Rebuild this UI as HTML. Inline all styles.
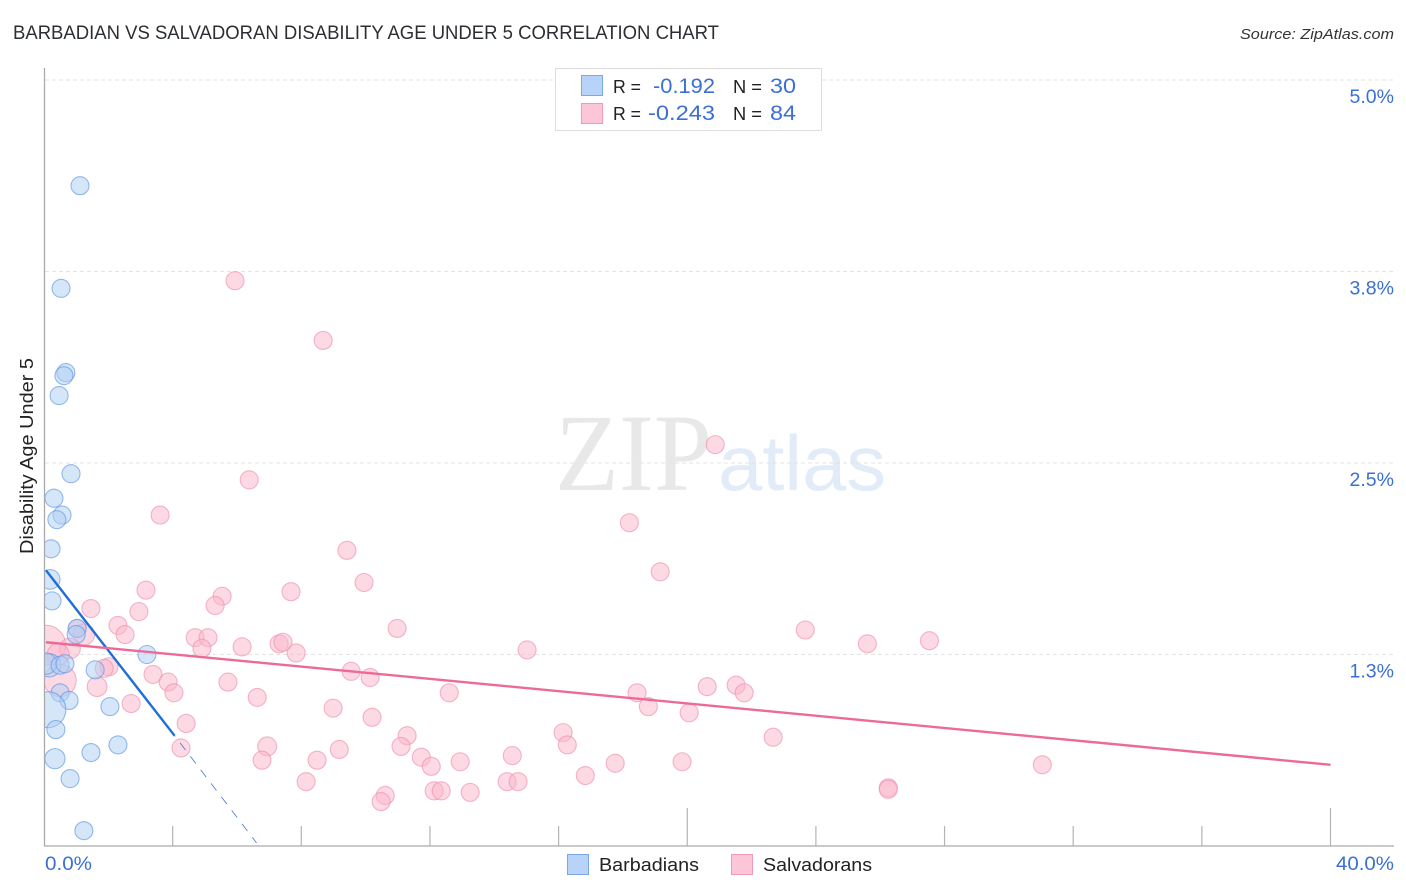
<!DOCTYPE html>
<html lang="en">
<head>
<meta charset="utf-8">
<title>Barbadian vs Salvadoran Disability Age Under 5 Correlation Chart</title>
<style>
html,body{margin:0;padding:0;background:#fff;}
svg{display:block;}
text{font-family:"Liberation Sans",sans-serif;}
</style>
</head>
<body>
<svg id="chart" width="1406" height="892" viewBox="0 0 1406 892" xmlns="http://www.w3.org/2000/svg">
  <rect x="0" y="0" width="1406" height="892" fill="#ffffff"/>
  <text x="13" y="39" font-size="19" fill="#2b2f33" textLength="706" lengthAdjust="spacingAndGlyphs">BARBADIAN VS SALVADORAN DISABILITY AGE UNDER 5 CORRELATION CHART</text>
  <text x="1394" y="39" font-size="15" font-style="italic" fill="#333" text-anchor="end" textLength="154" lengthAdjust="spacingAndGlyphs">Source: ZipAtlas.com</text>
  <g>
    <text x="555" y="490" font-size="110" fill="#e8e8e8" textLength="157" lengthAdjust="spacingAndGlyphs" style="font-family:'Liberation Serif',serif">ZIP</text>
    <text x="718" y="490" font-size="78" fill="#e2ebf8" textLength="168" lengthAdjust="spacingAndGlyphs" style="font-family:'Liberation Sans',sans-serif">atlas</text>
  </g>
  <g id="grid"></g>
  <g id="yLabels"></g>
  <g id="pinkPoints"></g>
  <g id="bluePoints"></g>
  <rect x="0" y="60" width="44" height="790" fill="#ffffff"/>
  <g id="trends"></g>
  <g id="axes">
    <line x1="44.5" y1="68" x2="44.5" y2="846" stroke="#aaaaaa" stroke-width="1.3"/>
    <line x1="44" y1="846" x2="1394" y2="846" stroke="#aaaaaa" stroke-width="1.3"/>
  </g>
  <g id="xTicks"></g>
  <text x="45" y="870" font-size="19" fill="#3b6fd4" textLength="47" lengthAdjust="spacingAndGlyphs">0.0%</text>
  <text x="1394" y="870" font-size="19" fill="#3b6fd4" text-anchor="end" textLength="58" lengthAdjust="spacingAndGlyphs">40.0%</text>
  <text transform="translate(33,456) rotate(-90)" font-size="18" fill="#222" text-anchor="middle" textLength="196" lengthAdjust="spacingAndGlyphs">Disability Age Under 5</text>

  <g>
    <rect x="555.5" y="68.5" width="266" height="62" fill="#ffffff" stroke="#dddddd" stroke-width="1"/>
    <rect x="581.5" y="75.5" width="21" height="20" fill="#b7d3f7" stroke="#7aa8e6"/>
    <rect x="581.5" y="103.5" width="21" height="20" fill="#fdc6d8" stroke="#f09ab5"/>
    <text x="613" y="93" font-size="18.5" fill="#222" textLength="28" lengthAdjust="spacingAndGlyphs">R =</text>
    <text x="715" y="93" font-size="21" fill="#3b6fd4" text-anchor="end" textLength="62" lengthAdjust="spacingAndGlyphs">-0.192</text>
    <text x="733" y="93" font-size="18.5" fill="#222" textLength="29" lengthAdjust="spacingAndGlyphs">N =</text>
    <text x="796" y="93" font-size="21" fill="#3b6fd4" text-anchor="end" textLength="26" lengthAdjust="spacingAndGlyphs">30</text>
    <text x="613" y="120" font-size="18.5" fill="#222" textLength="28" lengthAdjust="spacingAndGlyphs">R =</text>
    <text x="715" y="120" font-size="21" fill="#3b6fd4" text-anchor="end" textLength="67" lengthAdjust="spacingAndGlyphs">-0.243</text>
    <text x="733" y="120" font-size="18.5" fill="#222" textLength="29" lengthAdjust="spacingAndGlyphs">N =</text>
    <text x="796" y="120" font-size="21" fill="#3b6fd4" text-anchor="end" textLength="26" lengthAdjust="spacingAndGlyphs">84</text>
  </g>

  <g>
    <rect x="567.5" y="854.5" width="21" height="20" fill="#b7d3f7" stroke="#7aa8e6"/>
    <text x="599" y="871" font-size="18.5" fill="#222" textLength="100" lengthAdjust="spacingAndGlyphs">Barbadians</text>
    <rect x="731.5" y="854.5" width="21" height="20" fill="#fdc6d8" stroke="#f09ab5"/>
    <text x="763" y="871" font-size="18.5" fill="#222" textLength="109" lengthAdjust="spacingAndGlyphs">Salvadorans</text>
  </g>
</svg>
<script>
const yTickValues = [5.0, 3.75, 2.5, 1.25];
const yTickLabels = ["5.0%", "3.8%", "2.5%", "1.3%"];
const xTickValues = [4, 8, 12, 16, 20, 24, 28, 32, 36, 40];
const xMajorTicks = [20, 40];

const barbadianX = [1.12,0.53,0.68,0.62,0.47,0.84,0.31,0.56,0.40,0.22,0.19,0.25,1.03,1.00,3.20,0.16,0.06,0.50,0.65,1.59,0.50,0.78,2.05,0.12,0.37,2.30,1.46,0.34,0.81,1.24];
const barbadianY = [4.31,3.64,3.09,3.07,2.94,2.43,2.27,2.16,2.13,1.94,1.74,1.60,1.42,1.38,1.25,1.18,1.19,1.18,1.19,1.15,1.00,0.95,0.91,0.89,0.76,0.66,0.61,0.57,0.44,0.10];
const barbadianWeight = [1,1,1,1,1,1,1,1,1,1,1.2,1,1,1,1,1.7,1.4,1,1,1,1,1,1,4,1,1,1,1.25,1,1];

const salvadoranX = [5.94,8.68,20.87,6.38,3.61,18.20,9.42,19.16,9.95,3.17,7.68,5.54,1.46,5.32,2.95,10.98,2.30,2.52,23.67,1.03,1.24,4.70,5.10,27.53,25.60,7.31,7.43,6.16,4.91,7.84,15.02,0.05,0.81,0.44,2.02,1.87,9.55,10.14,3.39,3.86,5.72,0.50,1.65,4.04,12.60,18.44,20.62,21.52,21.77,6.63,2.71,18.79,8.99,20.06,10.20,4.42,11.29,16.14,22.67,6.94,4.26,9.18,11.10,16.27,6.78,8.49,11.73,14.56,12.94,12.04,17.76,19.84,31.04,16.83,8.15,14.40,14.74,10.61,10.48,12.13,12.35,13.25,26.25,26.25];
const salvadoranY = [3.69,3.30,2.62,2.39,2.16,2.11,1.93,1.79,1.72,1.67,1.66,1.63,1.55,1.57,1.53,1.42,1.44,1.38,1.41,1.42,1.38,1.36,1.36,1.34,1.32,1.32,1.33,1.30,1.29,1.26,1.28,1.31,1.29,1.25,1.17,1.16,1.14,1.10,1.12,1.07,1.07,1.08,1.04,1.00,1.00,1.00,1.04,1.05,1.00,0.97,0.93,0.91,0.90,0.87,0.84,0.80,0.72,0.74,0.71,0.65,0.64,0.63,0.65,0.66,0.56,0.56,0.58,0.59,0.55,0.52,0.54,0.55,0.53,0.46,0.42,0.42,0.42,0.33,0.29,0.36,0.36,0.35,0.38,0.37];
const salvadoranWeight = [1,1,1,1,1,1,1,1,1,1,1,1,1,1,1,1,1,1,1,1,1.4,1,1,1,1,1,1,1,1,1,1,5,1.3,1.5,1,1,1,1,1,1,1,3.2,1.2,1,1,1,1,1,1,1,1,1,1,1,1,1,1,1,1,1.1,1,1,1,1,1,1,1,1,1,1,1,1,1,1,1,1,1,1,1,1,1,1,1,1];

const barbadianTrendX = [0.06, 4.06];
const barbadianTrendY = [1.80, 0.72];
const barbadianDashX = [4.06, 6.61];
const barbadianDashY = [0.72, 0.02];
const salvadoranTrendX = [0.06, 40.0];
const salvadoranTrendY = [1.33, 0.53];

const NS = "http://www.w3.org/2000/svg";
const xMin = 0, xMax = 40, yMin = 0, yMax = 5;
const plotLeft = 44, plotRight = 1330.5, plotBottom = 846, plotTop = 80;
const xScale = v => plotLeft + (v - xMin) / (xMax - xMin) * (plotRight - plotLeft);
const yScale = v => plotBottom - (v - yMin) / (yMax - yMin) * (plotBottom - plotTop);

function make(tag, attrs) {
  const el = document.createElementNS(NS, tag);
  for (const k in attrs) el.setAttribute(k, attrs[k]);
  return el;
}

const grid = document.getElementById("grid");
const yLabels = document.getElementById("yLabels");
yTickValues.forEach((v, i) => {
  const line = make("line", {x1: 45, x2: 1394, y1: yScale(v), y2: yScale(v), stroke: "#e3e3e3", "stroke-width": 1, "stroke-dasharray": "4 3"});
  
  
  grid.appendChild(line);
  const label = make("text", {x: 1394, y: yScale(v) + 23, "font-size": 19.5, fill: "#3b6fd4", "text-anchor": "end"});
  
  
  label.textContent = yTickLabels[i];
  yLabels.appendChild(label);
});

const xTicks = document.getElementById("xTicks");
xTickValues.forEach(v => {
  const top = xMajorTicks.includes(v) ? 808 : 826;
  const tick = make("line", {x1: xScale(v), x2: xScale(v), y1: top, y2: 846, stroke: "#b4b4b4", "stroke-width": 1.2});
  
  
  xTicks.appendChild(tick);
});

function drawPoints(groupId, xs, ys, weights, fill, stroke, pointName) {
  const group = document.getElementById(groupId);
  xs.forEach((x, i) => {
    const c = make("circle", {cx: xScale(x), cy: yScale(ys[i]), r: 9 * Math.sqrt(weights[i]), fill: fill, "fill-opacity": 0.52, stroke: stroke, "stroke-opacity": 0.65, "stroke-width": 1.1});
    
    
    group.appendChild(c);
  });
}
drawPoints("pinkPoints", salvadoranX, salvadoranY, salvadoranWeight, "#fbb6cb", "#ee8fae", "salvadorans-point");
drawPoints("bluePoints", barbadianX, barbadianY, barbadianWeight, "#b0cff4", "#5f97e0", "barbadians-point");

const trends = document.getElementById("trends");
const blueTrend = make("line", {x1: xScale(barbadianTrendX[0]), y1: yScale(barbadianTrendY[0]), x2: xScale(barbadianTrendX[1]), y2: yScale(barbadianTrendY[1]), stroke: "#1f6fd6", "stroke-width": 2.4});


trends.appendChild(blueTrend);
const blueDash = make("line", {x1: xScale(barbadianDashX[0]), y1: yScale(barbadianDashY[0]), x2: xScale(barbadianDashX[1]), y2: yScale(barbadianDashY[1]), stroke: "#3f77c9", "stroke-width": 0.8, "stroke-dasharray": "9 8", "stroke-dashoffset": 8});


trends.appendChild(blueDash);
const pinkTrend = make("line", {x1: xScale(salvadoranTrendX[0]), y1: yScale(salvadoranTrendY[0]), x2: xScale(salvadoranTrendX[1]), y2: yScale(salvadoranTrendY[1]), stroke: "#ec6a98", "stroke-width": 2.4});


trends.appendChild(pinkTrend);
</script>
</body>
</html>
